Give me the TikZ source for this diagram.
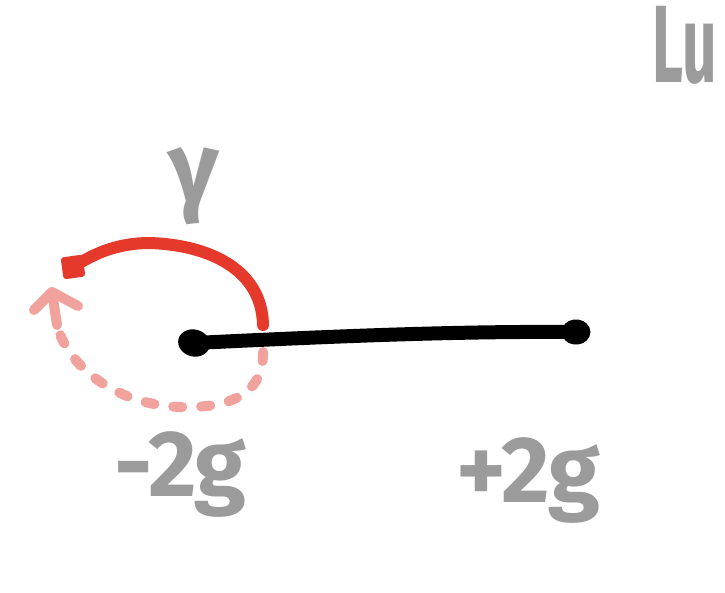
\documentclass[tikz,border=0pt]{standalone}
\usepackage{fontspec}
\setmainfont{Fira Sans}
\usetikzlibrary{arrows.meta,shapes.geometric}
\definecolor{inkred}{HTML}{E5392C}
\definecolor{inkpink}{HTML}{F2A29C}
\definecolor{inkgray}{HTML}{9B9B9B}
\tikzset{
  lbl/.style={text=inkgray, inner sep=0pt, font=\bfseries\fontsize{94}{110}\selectfont},
  blob/.style={fill=black, ellipse, inner sep=0pt, minimum width=32pt, minimum height=27pt},
  blackline/.style={line width=14pt, line cap=round, draw=black},
  redline/.style={line width=12pt, line cap=round, draw=inkred},
  pinkline/.style={line width=10pt, line cap=round, line join=round, draw=inkpink},
  reddot/.style={fill=inkred, rounded corners=3pt, inner sep=0pt, minimum size=22pt, rotate=8},
}
\begin{document}
\begin{tikzpicture}[x=1pt,y=-1pt]
\fill[white] (0,0) rectangle (725,592);
\useasboundingbox (0,0) rectangle (725,592);
% labels
\node[lbl, anchor=base west] (lu) at (652,82) {\fontsize{110}{120}\selectfont\scalebox{0.55}[1]{Lu}};
\node[lbl, anchor=base] (gam) at (194,202) {\fontsize{100}{110}\selectfont γ};
\node[lbl, anchor=base west] (lm) at (114,496) {-2g};
\node[lbl, anchor=base west] (lp) at (456,502) {+2g};
% segment
\node[blob, rotate=-15] (m) at (194,343) {};
\node[blob, minimum width=29pt, minimum height=25pt] (p) at (576,332) {};
\draw[blackline] (m.center) .. controls (320,337) and (450,331) .. (p.center);
% red arc
\coordinate (rs) at (263,325);
\node[reddot] (rd) at (73,267) {};
\draw[redline] (rs) .. controls (262,270) and (210,245) .. (150,243)
  .. controls (115,243) and (92,255) .. (rd.center);
% pink dashed arc
\coordinate (ps) at (263,350);
\coordinate (pe) at (57,326);
\draw[pinkline, dash pattern=on 9pt off 19pt, dash phase=-2pt] (ps) .. controls (265,400) and (220,408) .. (180,407)
  .. controls (120,405) and (70,370) .. (pe);
\coordinate (tip) at (52,292);
\coordinate (a1) at (34,310);
\coordinate (a2) at (78,306);
\coordinate (st) at (57,325);
\draw[pinkline] (a1) -- (tip) -- (a2);
\draw[pinkline] (st) -- (tip);
\end{tikzpicture}
\end{document}
